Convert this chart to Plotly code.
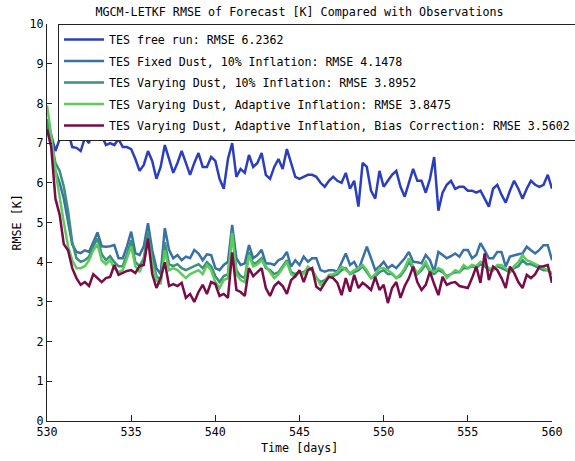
import plotly.graph_objects as go

# time axis: 6-hourly forecasts, day 530 to 560
days = [530 + 0.25 * i for i in range(121)]

free_run = [
    7.6, 7.2, 6.8, 7.1,
    7.45, 7.3, 6.9, 6.88,
    6.8, 7.13, 7.0, 7.6,
    7.35, 7.2, 6.95, 7.0,
    6.95, 7.1, 6.9, 6.9,
    6.85, 6.6, 6.3, 6.45,
    6.8, 6.55, 6.1, 6.4,
    6.95, 6.6, 6.25, 6.5,
    6.8, 6.5, 6.2, 6.5,
    6.75, 6.4, 6.4, 6.65,
    6.55, 6.1, 5.85, 6.6,
    7.0, 6.15, 6.35, 6.25,
    6.7, 6.4, 6.5, 6.75,
    6.2, 6.1, 6.4, 6.6,
    6.35, 6.85, 6.5, 6.15,
    6.1, 6.15, 6.2, 6.2,
    6.15, 6.0, 5.9, 6.05,
    6.15, 6.05, 6.0, 6.25,
    5.85, 6.05, 5.4, 6.5,
    6.4, 5.8, 5.6, 6.3,
    5.9, 6.05, 6.2, 6.3,
    5.9, 5.65, 6.0, 6.35,
    6.05, 6.05, 5.75, 6.1,
    6.65, 5.3, 5.75, 5.95,
    6.05, 5.85, 5.9, 5.9,
    5.8, 5.8, 5.75, 5.8,
    5.6, 5.4, 5.85, 5.95,
    5.7, 5.5, 5.8, 6.05,
    5.85, 5.6, 5.85, 6.05,
    5.95, 5.9, 5.95, 6.2,
    5.85,
]

fixed_dust = [
    7.5, 7.0, 6.3, 6.0,
    5.6, 5.0, 4.45, 4.26,
    4.23, 4.3, 4.26, 4.5,
    4.75, 4.4, 4.39, 4.4,
    4.43, 4.1, 4.1, 4.4,
    4.77, 4.23, 4.18, 4.4,
    4.98, 4.3, 3.85, 3.7,
    4.86, 4.31, 4.1, 4.18,
    4.05, 4.14, 4.1, 4.31,
    4.22, 4.05, 4.2, 4.18,
    3.85, 3.8, 3.93, 4.01,
    4.94, 4.1, 3.93, 3.97,
    4.43, 4.1, 4.18, 4.31,
    3.97, 3.97, 3.93, 4.05,
    4.1, 4.26, 3.89, 4.05,
    3.93, 4.14, 4.01, 4.1,
    4.1, 3.8, 3.76, 3.8,
    3.8, 3.76, 3.97, 4.22,
    3.93, 4.01, 3.8, 4.1,
    4.39, 4.1, 3.8, 3.89,
    4.01, 3.85, 3.93, 3.85,
    3.97, 4.1, 4.26, 4.01,
    4.0, 3.97, 4.18, 4.05,
    3.76, 4.26, 4.18, 4.1,
    4.15, 4.22, 4.14, 4.31,
    4.31, 4.1, 4.18, 4.48,
    4.3, 4.1, 4.1, 4.26,
    4.26, 3.89, 4.14, 4.18,
    4.2, 4.22, 4.39, 4.3,
    4.22, 4.31, 4.43, 4.43,
    4.05,
]

varying_10 = [
    7.6, 7.0, 6.5, 6.3,
    5.9, 5.3, 4.5, 4.1,
    4.01, 4.05, 4.14, 4.4,
    4.6, 4.2, 4.05, 4.15,
    4.0, 3.9, 3.9, 4.2,
    4.55, 4.0, 3.9, 4.1,
    4.75, 4.1, 3.65, 3.55,
    4.5, 3.95, 3.9, 3.95,
    3.85, 3.8, 3.85, 3.9,
    3.95, 3.85, 4.0, 3.9,
    3.65, 3.5, 3.65, 3.7,
    4.8, 3.8, 3.65, 3.6,
    4.25, 3.95, 4.0, 4.1,
    3.85, 3.8, 3.7, 3.75,
    3.9, 4.05, 3.75, 3.7,
    3.75, 3.75, 3.85, 3.8,
    3.6, 3.5, 3.55, 3.65,
    3.65, 3.7, 3.8, 3.85,
    3.7, 3.75, 3.8, 3.9,
    3.75, 3.6, 3.65, 3.75,
    3.8, 3.7, 3.7, 3.6,
    3.65, 3.8, 4.0, 3.85,
    3.7, 3.8, 3.95, 3.75,
    3.7, 3.8, 3.75, 3.65,
    3.7, 3.75, 3.75, 3.85,
    3.85, 3.9, 3.85, 3.95,
    3.9, 3.8, 3.8, 3.9,
    3.85, 3.8, 3.75, 3.85,
    3.9, 4.05, 3.95, 3.95,
    3.9, 3.85, 3.8, 3.8,
    3.7,
]

varying_adaptive = [
    7.95, 7.2, 6.3, 5.6,
    5.0, 4.4, 4.05, 3.85,
    3.85, 3.9, 4.05, 4.3,
    4.45, 4.05, 3.95, 4.05,
    3.85, 3.75, 3.8, 4.1,
    4.4, 3.9, 3.75, 4.0,
    4.6, 3.95, 3.55, 3.45,
    4.3, 3.8, 3.85, 3.8,
    3.7, 3.6, 3.7, 3.75,
    3.8, 3.7, 3.93, 3.8,
    3.5, 3.35, 3.55, 3.6,
    4.73, 3.7, 3.55, 3.5,
    4.18, 3.9, 3.95, 4.05,
    3.89, 3.75, 3.6, 3.7,
    3.85, 4.01, 3.7, 3.63,
    3.76, 3.7, 3.89, 3.8,
    3.63, 3.43, 3.5, 3.68,
    3.7, 3.75, 3.89, 3.8,
    3.72, 3.8, 3.85, 3.93,
    3.8, 3.6, 3.7, 3.85,
    3.85, 3.8, 3.72, 3.6,
    3.7, 3.85, 4.1, 3.9,
    3.72, 3.85, 4.01, 3.8,
    3.76, 3.85, 3.8, 3.6,
    3.7, 3.8, 3.75, 3.93,
    3.85, 3.93, 3.9, 4.01,
    3.95, 3.85, 3.8, 3.93,
    3.93, 3.85, 3.76, 3.9,
    4.0, 4.18, 4.05, 4.01,
    3.95, 3.89, 3.85, 3.8,
    3.72,
]

bias_corr = [
    7.35, 6.9, 5.6, 5.2,
    4.45, 4.3, 3.85, 3.6,
    3.43, 3.5, 3.4, 3.7,
    3.6, 3.5, 3.6, 3.63,
    3.93, 3.68, 3.73, 3.78,
    3.8, 3.73, 3.9, 3.93,
    4.6, 3.7, 3.35, 3.6,
    4.0, 3.4, 3.45, 3.4,
    3.48, 3.1, 3.2, 3.0,
    3.25, 3.43, 3.2, 3.5,
    3.45, 3.15, 3.2, 3.1,
    4.25, 3.3, 3.25, 3.15,
    3.85, 3.65, 3.75, 3.85,
    3.35, 3.15, 3.4, 3.5,
    3.4, 3.2, 3.55, 3.65,
    3.8, 3.5, 3.8, 3.85,
    3.38, 3.3, 3.48, 3.63,
    3.6, 3.48, 3.17, 3.6,
    3.26, 3.68, 3.35, 3.48,
    3.4, 3.3, 3.63, 3.3,
    3.43, 2.97, 3.35, 3.5,
    3.1, 3.4, 3.6, 3.89,
    3.5, 3.3, 3.43, 3.76,
    3.45, 3.17, 3.63, 3.43,
    3.48, 3.5, 3.4, 3.38,
    3.35, 3.6, 3.89, 3.48,
    4.22, 3.55, 3.89, 3.8,
    3.6, 3.35, 3.89, 3.73,
    3.5, 3.35, 3.68, 3.6,
    3.7, 3.89, 3.9, 3.93,
    3.48,
]

series_names = [
    "TES free run: RMSE 6.2362",
    "TES Fixed Dust, 10% Inflation: RMSE 4.1478",
    "TES Varying Dust, 10% Inflation: RMSE 3.8952",
    "TES Varying Dust, Adaptive Inflation: RMSE 3.8475",
    "TES Varying Dust, Adaptive Inflation, Bias Correction: RMSE 3.5602",
]
series_values = [free_run, fixed_dust, varying_10, varying_adaptive, bias_corr]
series_colors = ["#2b3fbe", "#3870a8", "#3a9078", "#5ccb5c", "#7a0a48"]

x_ticks = [530, 535, 540, 545, 550, 555, 560]
y_ticks = [0, 1, 2, 3, 4, 5, 6, 7, 8, 9, 10]

FONT = "DejaVu Sans Mono"
W, H = 575, 461
L, R, T, B = 47, 23, 24, 40
PW, PH = W - L - R, H - T - B

fig = go.Figure()
for i, (name, vals, col) in enumerate(zip(series_names, series_values, series_colors)):
    fig.add_trace(go.Scatter(
        x=days, y=vals, mode="lines", name=name, legendgroup=f"g{i}",
        line=dict(color=col, width=2.5),
    ))

fig.update_layout(
    width=W, height=H,
    autosize=False,
    margin=dict(l=L, r=R, t=T, b=B, autoexpand=False),
    paper_bgcolor="white", plot_bgcolor="white",
    font=dict(family=FONT, size=11.7, color="black"),
    title=dict(
        text="MGCM-LETKF RMSE of Forecast [K] Compared with Observations",
        x=0.5, xref="paper", xanchor="center",
        y=1 - 12 / H, yref="container", yanchor="middle",
        font=dict(family=FONT, size=11.7, color="black"),
    ),
    showlegend=True,
    legend=dict(
        xref="container", yref="container",
        x=58 / W, y=1 - 24 / H, xanchor="left", yanchor="top",
        bgcolor="white", bordercolor="#222222", borderwidth=1,
        font=dict(family=FONT, size=11.6, color="black"),
        itemwidth=40, tracegroupgap=2.5, traceorder="grouped",
    ),
    annotations=[
        dict(text="RMSE [K]", textangle=-90, showarrow=False,
             xref="paper", yref="paper",
             x=(16 - L) / PW, y=0.5, xanchor="center", yanchor="middle",
             font=dict(family=FONT, size=11.7, color="black")),
        dict(text="Time [days]", showarrow=False,
             xref="paper", yref="paper",
             x=0.5, y=-(448 - (T + PH)) / PH, xanchor="center", yanchor="middle",
             font=dict(family=FONT, size=11.7, color="black")),
    ],
)
fig.update_xaxes(
    range=[530, 560], tickvals=x_ticks, ticktext=[str(v) for v in x_ticks],
    ticks="inside", ticklen=6, tickcolor="#222222",
    showline=True, linecolor="#222222", linewidth=1, mirror=False,
    showgrid=False, zeroline=False,
)
fig.update_yaxes(
    range=[0, 10], tickvals=y_ticks, ticktext=[str(v) for v in y_ticks],
    ticks="inside", ticklen=5, tickcolor="#222222",
    showline=True, linecolor="#222222", linewidth=1, mirror=False,
    showgrid=False, zeroline=False,
)

fig.write_html(
    "out.html",
    config={"displayModeBar": False},
    post_script="document.body.style.margin='0px';document.body.style.padding='0px';",
)
